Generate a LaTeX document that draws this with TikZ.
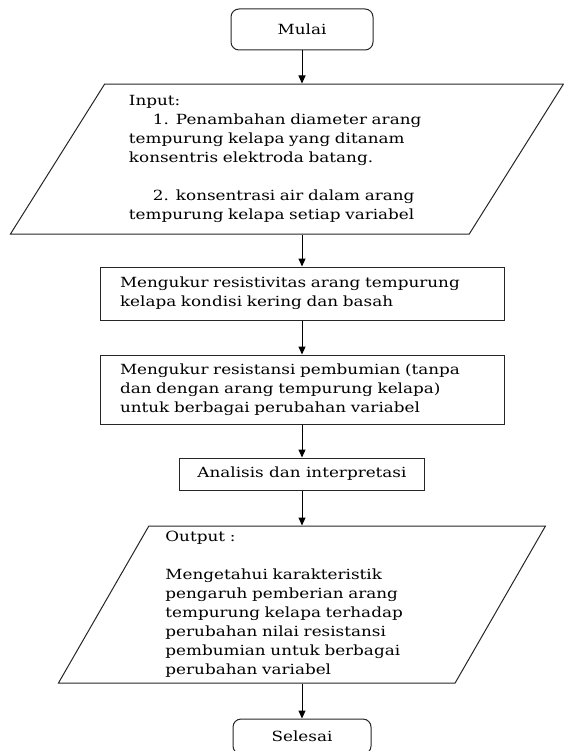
\documentclass[tikz,border=0pt]{standalone}
\usepackage{fontspec}
\setmainfont{DejaVu Serif}[FakeStretch=1.2]
\usepackage{tikz}
\usetikzlibrary{arrows.meta,positioning,shapes.geometric}
\tikzset{
  flowarrow/.style={-{Triangle[length=8pt,width=7pt]}, line width=1pt, draw=black},
  terminal/.style={draw=black!85, line width=1pt, rounded corners=8pt,
    align=center, minimum width=142pt, minimum height=41pt},
  prosesbox/.style={draw=black!85, line width=1pt, align=left,
    inner xsep=20pt, inner ysep=4pt, text width=364pt},
  iobox/.style={trapezium, trapezium stretches body, draw=black!85, line width=1pt,
    align=left, inner sep=0pt},
  txt/.style={font=\fontsize{14}{19}\selectfont}
}

\begin{document}
\begin{tikzpicture}[x=1pt, y=-1pt, node distance=34pt, txt]
        \useasboundingbox (0,0) rectangle (563,751);
        \node[terminal] (mulai) at (302,29.5) {Mulai};
        \node[iobox, below=33pt of mulai, xshift=-15pt, text width=316pt,
          trapezium left angle=53.5, trapezium right angle=126.5,
          minimum width=553pt, minimum height=150pt] (input)
          {Input:\\
           \hspace*{24pt}1. Penambahan diameter arang\\
           tempurung kelapa yang ditanam\\
           konsentris elektroda batang.\\[19pt]
           \hspace*{24pt}2. konsentrasi air dalam arang\\
           tempurung kelapa setiap variabel};
        \node[prosesbox, minimum height=53pt] (ukur1) at (302,293.5)
          {Mengukur resistivitas arang tempurung\\kelapa kondisi kering dan basah};
        \node[prosesbox, below=of ukur1, minimum height=69pt] (ukur2)
          {Mengukur resistansi pembumian (tanpa\\dan dengan arang tempurung kelapa)\\untuk berbagai perubahan variabel};
        \node[draw=black!85, line width=1pt, below=33pt of ukur2,
          minimum width=245pt, minimum height=32pt] (analisis) {Analisis dan interpretasi};
        \node[iobox, below=35pt of analisis, text width=273pt,
          trapezium left angle=58.3, trapezium right angle=121.7,
          minimum width=487pt, minimum height=157pt] (output)
          {Output :\\[19pt]
           Mengetahui karakteristik\\
           pengaruh pemberian arang\\
           tempurung kelapa terhadap\\
           perubahan nilai resistansi\\
           pembumian untuk berbagai\\
           perubahan variabel};
        \node[terminal, below=35pt of output, minimum width=138pt, minimum height=35pt] (selesai) {Selesai};

        \draw[flowarrow] (mulai) -- (mulai |- input.north);
        \draw[flowarrow] (ukur1 |- input.south) -- (ukur1);
        \draw[flowarrow] (ukur1) -- (ukur2);
        \draw[flowarrow] (ukur2) -- (analisis);
        \draw[flowarrow] (analisis) -- (analisis |- output.north);
        \draw[flowarrow] (selesai |- output.south) -- (selesai);
    \end{tikzpicture}
\end{document}
